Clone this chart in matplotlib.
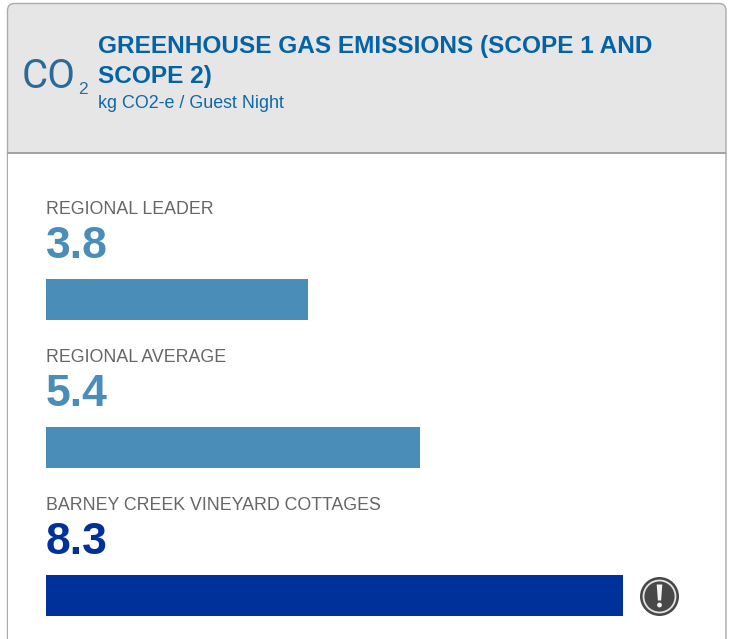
"""Greenhouse gas emissions card: three horizontal bars with a header panel."""
import matplotlib
matplotlib.use("Agg")
import matplotlib.pyplot as plt
from matplotlib.patches import Circle, FancyBboxPatch, Polygon, Rectangle

W, H = 732, 639

LABELS = ["REGIONAL LEADER", "REGIONAL AVERAGE", "BARNEY CREEK VINEYARD COTTAGES"]
SHOWN = ["3.8", "5.4", "8.3"]
VALUES = [3.78, 5.39, 8.31]  # a bit more precise than the labels
COLORS = ["#4b8db9", "#4b8db9", "#00309a"]
NUM_COLORS = ["#4b8db9", "#4b8db9", "#00309a"]

TITLE_LINES = ["GREENHOUSE GAS EMISSIONS (SCOPE 1 AND", "SCOPE 2)"]
SUBTITLE = "kg CO2-e / Guest Night"

plt.rcParams["font.family"] = ["Liberation Sans", "DejaVu Sans"]
fig = plt.figure(figsize=(W / 100, H / 100), dpi=100, facecolor="white")

# page layer in pixel coordinates, y downwards
bg = fig.add_axes([0, 0, 1, 1])
bg.set_xlim(0, W)
bg.set_ylim(H, 0)
bg.axis("off")

# card is grey all over, the white body then covers everything under the header
card = FancyBboxPatch((7.5, 3.5), 718.5, 680, boxstyle="round,pad=0,rounding_size=7",
                      fc="#e6e6e6", ec="#ababab", lw=1.0)
bg.add_patch(card)
bg.add_patch(Rectangle((8.2, 153), 717.1, 490, fc="white", ec="none"))
bg.add_patch(Rectangle((7, 152.2), 719, 1.8, fc="#a3a3a3", ec="none"))

# header text
for line, y in zip(TITLE_LINES, [47, 77]):
    bg.text(98, y, line, color="#0463a5", fontsize=17.55, fontweight="bold", va="center", ha="left")
bg.text(98, 103, SUBTITLE, color="#0f69a9", fontsize=12.9, va="center", ha="left")
bg.text(22, 77, "CO", color="#2a6a9b", fontsize=29, family="Roboto", va="center", ha="left")
bg.text(78, 90, "2", color="#2a6a9b", fontsize=12.5, va="center", ha="left")

# bars on their own value axis, x = 0 at the left edge of the bars
bar_top, bar_h, pitch = 279, 41, 148
x0, x1 = 46, 623
y0, y1 = bar_top, bar_top + 2 * pitch + bar_h
ax = fig.add_axes([x0 / W, 1 - y1 / H, (x1 - x0) / W, (y1 - y0) / H])
ax.patch.set_alpha(0)
ax.set_xlim(0, max(VALUES))
pad = bar_h / pitch / 2
ax.set_ylim(2 + pad, -pad)
ax.barh(range(len(VALUES)), VALUES, height=bar_h / pitch, color=COLORS)
ax.axis("off")

# labels sit above each bar
for i, (label, shown, c) in enumerate(zip(LABELS, SHOWN, NUM_COLORS)):
    bg.text(46, 210 + i * pitch, label, color="#666666", fontsize=12.75, va="center", ha="left")
    bg.text(46, 246.5 + i * pitch, shown, color=c, fontsize=32, fontweight="bold", va="center", ha="left")

# warning icon
cx, cy = 659.5, 596.5
bg.add_patch(Circle((cx, cy), 19.5, fc="#484848", ec="none"))
bg.add_patch(Circle((cx, cy), 16, fc="#484848", ec="#e4e4e4", lw=1.3))
bg.add_patch(Polygon([(cx - 2.8, cy - 12), (cx + 2.8, cy - 12), (cx + 1.6, cy + 4), (cx - 1.6, cy + 4)],
                     fc="#f4f4f4", ec="none"))
bg.add_patch(Circle((cx, cy + 8.5), 2.4, fc="#f4f4f4", ec="none"))

fig.savefig("out.png", dpi=100)
